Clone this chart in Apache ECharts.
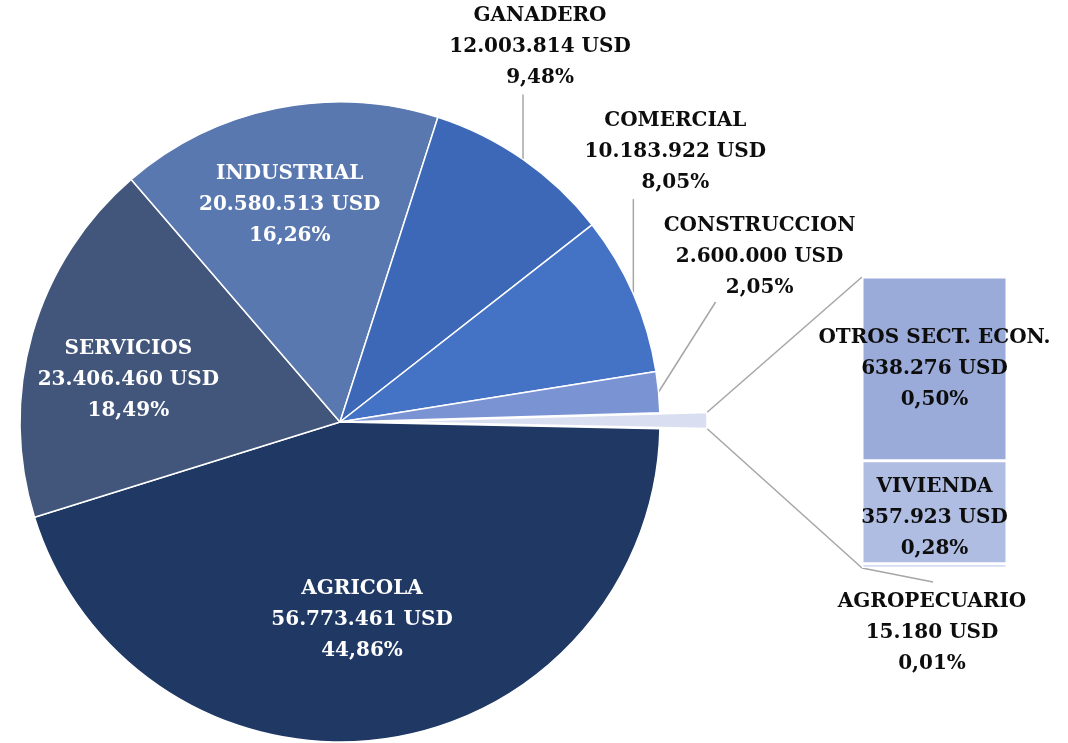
<!DOCTYPE html>
<html>

<head>
    <meta charset="utf-8">
    <title>Cartera por sector (ECharts)</title>
    <script src="https://cdn.jsdelivr.net/npm/echarts@6/dist/echarts.min.js"></script>
    <style>
        html,
        body {
            margin: 0;
            padding: 0;
            height: 100%;
            overflow: hidden;
            background: #fff;
        }

        #main {
            width: 1068px;
            height: 743px;
        }
    </style>
</head>

<body>
    <div id="main"></div>

    <script>
        // sectores del pastel
        const pieNames = ['AGRICOLA', 'SERVICIOS', 'INDUSTRIAL', 'GANADERO', 'COMERCIAL', 'CONSTRUCCION'];
        const pieValues = [56773461, 23406460, 20580513, 12003814, 10183922, 2600000];
        const pieColors = ['#1f3864', '#42557b', '#5a78b0', '#3d68b8', '#4472c4', '#7a93d3'];

        // desglose en la barra
        const barNames = ['OTROS SECT. ECON.', 'VIVIENDA', 'AGROPECUARIO'];
        const barValues = [638276, 357923, 15180];
        const barColors = ['#9aabd9', '#b0bde3', '#c5cfec'];

        const otherValue = barValues.reduce((a, b) => a + b, 0);
        const grandTotal = pieValues.reduce((a, b) => a + b, 0) + otherValue;

        // geometria
        const CX = 340, CY = 422, R = 320, START = -1.2, EXPLODE = 47;
        const BAR = { left: 862, top: 277, width: 145, height: 291 };
        const FONT = 'DejaVu Serif';
        const FSIZE = 20;

        const fmtNum = v => String(v).replace(/\B(?=(\d{3})+(?!\d))/g, '.');
        const fmtPct = v => (v / grandTotal * 100).toFixed(2).replace('.', ',');
        const labelText = (name, v) => name + '\n' + fmtNum(v) + ' USD\n' + fmtPct(v) + '%';

        // angulos medios (pantalla, horario)
        const allPie = pieValues.concat([otherValue]);
        const mids = [];
        let acc = 0;
        allPie.forEach(v => {
            mids.push((-START + (acc + v / 2) / grandTotal * 360) * Math.PI / 180);
            acc += v;
        });
        const otherStart = (-START + (grandTotal - otherValue) / grandTotal * 360) * Math.PI / 180;
        const otherEnd = (-START + 360) * Math.PI / 180;

        // posicion de etiquetas
        const spots = [
            { inside: true, r: 200, ox: -6, oy: 0 },
            { inside: true, r: 216, ox: -4, oy: 17 },
            { inside: true, r: 223, ox: -6, oy: 1 },
            { lx: 17, ly: -66, ex: 0, ey: -65 },
            { lx: 42, ly: -96, ex: 0, ey: -95 },
            { lx: 101, ly: -89, ex: 57, ey: -90 }
        ];

        const chart = echarts.init(document.getElementById('main'));

        const pieData = pieNames.map((n, i) => {
            const outside = !spots[i].inside;
            return {
                name: n,
                value: pieValues[i],
                itemStyle: { color: pieColors[i] },
                label: {
                    show: true,
                    position: outside ? 'outside' : 'inside',
                    color: outside ? '#0d0d0d' : '#fff'
                },
                labelLine: { show: outside }
            };
        });
        pieData.push({
            name: 'OTROS',
            value: otherValue,
            selected: true,
            itemStyle: { color: '#d9dff0' },
            label: { show: false },
            labelLine: { show: false }
        });

        const am = mids[6];
        const ox = CX + EXPLODE * Math.cos(am), oy = CY + EXPLODE * Math.sin(am);
        const connectorStyle = { stroke: '#a6a6a6', lineWidth: 1.5 };
        const barBottom = BAR.top + BAR.height;

        chart.setOption({
            animation: false,
            backgroundColor: '#fff',
            grid: { left: BAR.left, top: BAR.top, width: BAR.width, height: BAR.height },
            xAxis: { type: 'category', data: ['x'], show: false },
            yAxis: { type: 'value', min: 0, max: otherValue, show: false },
            graphic: [
                {
                    type: 'line', silent: true, style: connectorStyle,
                    shape: { x1: ox + R * Math.cos(otherStart), y1: oy + R * Math.sin(otherStart), x2: BAR.left, y2: BAR.top }
                },
                {
                    type: 'line', silent: true, style: connectorStyle,
                    shape: { x1: ox + R * Math.cos(otherEnd), y1: oy + R * Math.sin(otherEnd), x2: BAR.left, y2: barBottom }
                },
                {
                    // guia de AGROPECUARIO
                    type: 'line', silent: true, style: connectorStyle,
                    shape: { x1: BAR.left, y1: barBottom, x2: BAR.left + 71, y2: barBottom + 14 }
                }
            ],
            series: [
                {
                    type: 'pie',
                    center: [CX, CY],
                    radius: R,
                    startAngle: START,
                    clockwise: true,
                    selectedMode: 'single',
                    selectedOffset: EXPLODE,
                    avoidLabelOverlap: false,
                    silent: true,
                    itemStyle: { borderColor: '#fff', borderWidth: 1.5 },
                    label: {
                        fontFamily: FONT,
                        fontWeight: 'bold',
                        fontSize: FSIZE,
                        lineHeight: 31,
                        align: 'center',
                        formatter: p => labelText(p.name, p.value)
                    },
                    labelLine: { lineStyle: { color: '#a6a6a6', width: 1.5 } },
                    labelLayout: params => {
                        const i = params.dataIndex;
                        const s = spots[i];
                        if (!s) return {};
                        const a = mids[i];
                        if (s.inside) {
                            return {
                                x: CX + s.r * Math.cos(a) + s.ox,
                                y: CY + s.r * Math.sin(a) + s.oy,
                                align: 'center', verticalAlign: 'middle'
                            };
                        }
                        const px = CX + R * Math.cos(a), py = CY + R * Math.sin(a);
                        return {
                            x: px + s.lx, y: py + s.ly,
                            align: 'center', verticalAlign: 'bottom',
                            labelLinePoints: [[px, py], [px + s.ex, py + s.ey]]
                        };
                    },
                    data: pieData
                }
            ].concat(barNames.slice().reverse().map((n, k) => {
                const i = barNames.length - 1 - k;
                const isSmall = i === 2;
                return {
                    type: 'bar',
                    name: n,
                    stack: 'otros',
                    barWidth: '100%',
                    silent: true,
                    itemStyle: { color: barColors[i], borderColor: '#fff', borderWidth: 1.5 },
                    label: {
                        show: true,
                        position: 'inside',
                        offset: i === 1 ? [0, 6] : [0, 0],
                        color: '#0d0d0d',
                        fontFamily: FONT,
                        fontWeight: 'bold',
                        fontSize: FSIZE,
                        lineHeight: 31,
                        align: 'center',
                        formatter: () => labelText(n, barValues[i])
                    },
                    labelLayout: isSmall ? params => ({
                        x: params.rect.x + 70,
                        y: params.rect.y + params.rect.height + 18,
                        align: 'center', verticalAlign: 'top'
                    }) : null,
                    data: [barValues[i]]
                };
            }))
        });
    </script>

</body>

</html>
